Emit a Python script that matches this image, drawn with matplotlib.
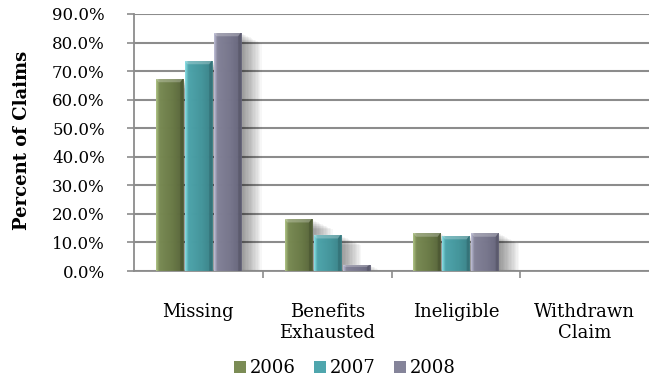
import numpy as np
import matplotlib
matplotlib.use("Agg")
import matplotlib.pyplot as plt
import matplotlib.patheffects as pe
from matplotlib.colors import LinearSegmentedColormap
from matplotlib.ticker import FuncFormatter, FixedLocator

categories = ["Missing", "Benefits\nExhausted", "Ineligible", "Withdrawn\nClaim"]
years = ["2006", "2007", "2008"]
pct_2006 = [67.4, 18.3, 13.3, 0.0]
pct_2007 = [73.7, 12.7, 12.4, 0.0]
pct_2008 = [83.5, 2.2, 13.3, 0.0]
series = [pct_2006, pct_2007, pct_2008]

# left highlight -> body -> right shade for each series
palettes = [
    ["#b4c98a", "#7b8c55", "#6a7a47", "#56633a"],
    ["#8fe6ec", "#4fa6ad", "#45969c", "#3a8086"],
    ["#c4c4dc", "#85849a", "#77768c", "#65647a"],
]

plt.rcParams["font.family"] = ["DejaVu Serif"]
fig = plt.figure(figsize=(6.49, 3.83), dpi=100)
ax = fig.add_axes([134 / 649, 1 - 271 / 383, 1 - 134 / 649, (271 - 14) / 383])

n = len(categories)
x = np.arange(n)
bw = 0.21
gap = 0.015
offsets = [-(bw + gap), 0.0, (bw + gap)]

ax.set_xlim(-0.5, n - 0.5)
ax.set_ylim(0, 90)

# soft drop shadow built from many faint offset copies
shadow = []
for k in range(1, 16):
    shadow.append(pe.SimplePatchShadow(offset=(k * 1.0, -k * 0.5),
                                       shadow_rgbFace="black", alpha=0.03))

grad = np.linspace(0, 1, 64).reshape(1, -1)
handles = []
for vals, off, pal, yr in zip(series, offsets, palettes, years):
    cmap = LinearSegmentedColormap.from_list(
        "g" + yr, [(0.0, pal[0]), (0.12, pal[1]), (0.6, pal[2]), (1.0, pal[3])])
    bars = ax.bar(x + off, vals, width=bw, color=pal[2], edgecolor="none",
                  zorder=2, alpha=0.92)
    handles.append(plt.Rectangle((0, 0), 1, 1, facecolor=pal[1], edgecolor="none"))
    for b in bars:
        h = b.get_height()
        if h <= 0:
            continue
        b.set_path_effects(shadow + [pe.Normal()])
        x0, w = b.get_x(), b.get_width()
        im = ax.imshow(grad, cmap=cmap, aspect="auto", extent=(x0, x0 + w, 0, h),
                       zorder=3, alpha=0.92, interpolation="bilinear")
        im.set_clip_path(b)
        # bevelled top edge
        bev = min(1.3, h * 0.35)
        ax.fill([x0, x0 + w, x0 + w * 0.9, x0 + w * 0.1],
                [h, h, h - bev, h - bev], color="white", alpha=0.25,
                lw=0, zorder=4)
        ax.fill([x0 + w * 0.9, x0 + w, x0 + w, x0 + w * 0.9],
                [h - bev, h, 0, 0], color="black", alpha=0.12, lw=0, zorder=4)
    ax.set_xlim(-0.5, n - 0.5)
    ax.set_ylim(0, 90)

ax.set_yticks(np.arange(0, 91, 10))
ax.yaxis.set_major_formatter(FuncFormatter(lambda v, p: f"{v:.1f}%"))
ax.grid(axis="y", color="#8c8c8c", linewidth=1.5, zorder=1)
ax.set_axisbelow(True)

ax.set_xticks(x)
ax.set_xticklabels(categories, linespacing=1.2)
ax.xaxis.set_minor_locator(FixedLocator([0.5, 1.5, 2.5]))
ax.tick_params(axis="x", which="major", length=0, pad=23, labelsize=13)
ax.tick_params(axis="x", which="minor", length=5, width=1.2, color="#8c8c8c",
               direction="out")
ax.tick_params(axis="y", length=5, width=1.2, color="#8c8c8c", labelsize=12,
               pad=16)

for s in ["top", "right"]:
    ax.spines[s].set_visible(False)
for s in ["left", "bottom"]:
    ax.spines[s].set_color("#8c8c8c")
    ax.spines[s].set_linewidth(1.3)

fig.text(22 / 649, 1 - 140 / 383, "Percent of Claims", rotation=90,
         ha="center", va="center", fontsize=13, fontweight="bold")

leg = fig.legend(handles, years, loc="center",
                 bbox_to_anchor=(345 / 649, 1 - 368 / 383),
                 ncol=3, frameon=False, fontsize=13, handlelength=0.65,
                 handleheight=0.65, handletextpad=0.25, columnspacing=1.0)

fig.savefig("out.png", dpi=100)
